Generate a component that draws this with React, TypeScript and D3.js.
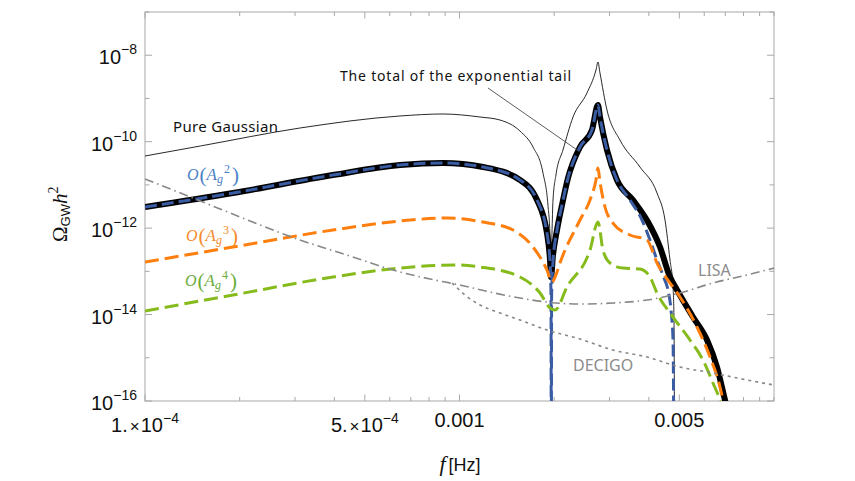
import React from "react";
import * as d3 from "d3";

const W = 855;
const H = 481;
const plot = { left: 145, right: 774, top: 12, bottom: 401 };

// pure gaussian (thin black)
const gaussF = [1e-4, 1.5e-4, 3.11e-4, 6.47e-4, 8.86e-4, 1.162e-3, 1.345e-3, 1.557e-3, 1.713e-3, 1.843e-3, 1.911e-3, 1.94e-3, 1.954e-3, 1.968e-3, 1.983e-3, 2.026e-3, 2.133e-3, 2.296e-3, 2.543e-3, 2.716e-3, 2.756e-3, 2.797e-3, 2.944e-3, 3.237e-3, 3.748e-3, 4.246e-3, 4.502e-3, 4.67e-3, 4.775e-3, 4.809e-3, 4.83e-3];
const gaussOmega = [4.66e-11, 7.94e-11, 2.07e-10, 3.93e-10, 4.37e-10, 3.72e-10, 3.17e-10, 1.76e-10, 7.52e-11, 1.88e-11, 3.42e-12, 6.92e-13, 1.19e-13, 7.7e-13, 4.47e-12, 1.69e-11, 6.41e-11, 3.72e-10, 1.34e-9, 4.55e-9, 6.97e-9, 3.88e-9, 5.4e-10, 1.09e-10, 2.59e-11, 6.49e-12, 1.54e-12, 1.83e-13, 4.34e-14, 7.48e-15, 1e-18];

// total of the exponential tail (thick black)
const totalF = [1e-4, 1.905e-4, 3.96e-4, 6.47e-4, 8.86e-4, 1.188e-3, 1.557e-3, 1.764e-3, 1.897e-3, 1.94e-3, 1.954e-3, 1.983e-3, 2.042e-3, 2.118e-3, 2.213e-3, 2.416e-3, 2.638e-3, 2.756e-3, 2.797e-3, 2.944e-3, 3.167e-3, 3.561e-3, 3.975e-3, 4.34e-3, 4.67e-3, 4.917e-3, 5.526e-3, 6.124e-3, 6.588e-3, 6.985e-3, 7.14e-3];
const totalOmega = [3.08e-12, 6.49e-12, 1.69e-11, 2.88e-11, 3.21e-11, 2.59e-11, 1.3e-11, 4.47e-12, 7.7e-13, 1.83e-13, 7.39e-14, 2.39e-13, 9.03e-13, 3.42e-12, 1.44e-11, 7.52e-11, 1.86e-10, 7.05e-10, 3.72e-10, 6.41e-11, 1.3e-11, 4.47e-12, 1.38e-12, 3.65e-13, 7.39e-14, 3.7e-14, 8.77e-15, 2.58e-15, 6.11e-16, 1.05e-16, 5.5e-17];

// O(Ag^2)
const ag2F = [1e-4, 1.905e-4, 3.96e-4, 6.47e-4, 8.86e-4, 1.188e-3, 1.557e-3, 1.764e-3, 1.897e-3, 1.94e-3, 1.954e-3, 1.958e-3, 1.963e-3, 1.983e-3, 2.042e-3, 2.118e-3, 2.213e-3, 2.416e-3, 2.638e-3, 2.756e-3, 2.797e-3, 2.944e-3, 3.167e-3, 3.483e-3, 3.804e-3, 4.033e-3, 4.246e-3, 4.469e-3, 4.603e-3, 4.705e-3, 4.775e-3, 4.809e-3];
const ag2Omega = [3.08e-12, 6.49e-12, 1.69e-11, 2.88e-11, 3.21e-11, 2.59e-11, 1.3e-11, 4.47e-12, 7.7e-13, 1.64e-13, 2.83e-14, 1e-18, 2.83e-14, 1.64e-13, 9.03e-13, 3.42e-12, 1.44e-11, 7.52e-11, 1.86e-10, 7.05e-10, 3.72e-10, 6.41e-11, 1.3e-11, 4.47e-12, 1.54e-12, 5.31e-13, 1.83e-13, 7.01e-14, 3.7e-14, 1.27e-14, 2.58e-15, 1e-18];

// O(Ag^3)
const ag3F = [1e-4, 1.905e-4, 3.96e-4, 6.47e-4, 9.13e-4, 1.188e-3, 1.48e-3, 1.713e-3, 1.897e-3, 1.968e-3, 2.026e-3, 2.087e-3, 2.416e-3, 2.6e-3, 2.716e-3, 2.756e-3, 2.797e-3, 2.901e-3, 3.076e-3, 3.483e-3, 3.946e-3, 4.246e-3, 4.67e-3, 5.025e-3, 5.69e-3, 6.259e-3, 6.734e-3, 6.985e-3];
const ag3Omega = [1.64e-13, 3.65e-13, 9.03e-13, 1.46e-12, 1.71e-12, 1.38e-12, 9.03e-13, 3.65e-13, 1.07e-13, 5.66e-14, 8.22e-14, 1.56e-13, 1.54e-12, 4.47e-12, 1.3e-11, 2.46e-11, 1.17e-11, 3.08e-12, 1.31e-12, 6.92e-13, 5.31e-13, 1.56e-13, 5.37e-14, 2.55e-14, 5.15e-15, 1.04e-15, 2.11e-16, 6.18e-17];

// O(Ag^4)
const ag4F = [1e-4, 1.905e-4, 3.96e-4, 6.47e-4, 9.82e-4, 1.162e-3, 1.557e-3, 1.803e-3, 1.94e-3, 2.012e-3, 2.197e-3, 2.6e-3, 2.756e-3, 2.859e-3, 3.009e-3, 3.309e-3, 3.748e-3, 4.033e-3, 4.246e-3, 4.775e-3, 5.406e-3, 5.944e-3, 6.397e-3, 6.734e-3, 6.883e-3];
const ag4Omega = [1.21e-14, 2.83e-14, 7.39e-14, 1.19e-13, 1.4e-13, 1.26e-13, 7.39e-14, 3.15e-14, 1.42e-14, 1.27e-14, 4.34e-14, 3.11e-13, 1.38e-12, 3.11e-13, 1.56e-13, 1.19e-13, 1.13e-13, 7.39e-14, 3.15e-14, 8.77e-15, 2.58e-15, 8.88e-16, 2.61e-16, 1.05e-16, 6.18e-17];

// sensitivity curves
const lisaF = [1e-4, 1.5e-4, 2.158e-4, 3.11e-4, 4.49e-4, 6.15e-4, 8.06e-4, 1.004e-3, 1.25e-3, 1.557e-3, 1.897e-3, 2.416e-3, 3.076e-3, 3.946e-3, 5.025e-3, 6.397e-3, 8.207e-3, 1e-2];
const lisaOmega = [1.37e-11, 4.24e-12, 1.46e-12, 5.31e-13, 2.26e-13, 1.07e-13, 6.64e-14, 4.82e-14, 3.32e-14, 2.41e-14, 1.95e-14, 1.75e-14, 1.85e-14, 2.17e-14, 3.15e-14, 5.37e-14, 8.22e-14, 1.19e-13];
const decigoF = [9.47e-4, 1.041e-3, 1.162e-3, 1.345e-3, 1.557e-3, 1.897e-3, 2.416e-3, 3.076e-3, 3.946e-3, 5.025e-3, 6.397e-3, 8.207e-3, 1e-2];
const decigoOmega = [5.37e-14, 2.83e-14, 1.66e-14, 1.09e-14, 7.48e-15, 4.39e-15, 2.72e-15, 1.51e-15, 1.04e-15, 6.11e-16, 4.44e-16, 3.06e-16, 2.34e-16];

const xMajor = [1e-4, 5e-4, 1e-3, 5e-3];
const xLabels = [
  { v: 1e-4, mant: "1.", exp: "−4" },
  { v: 5e-4, mant: "5.", exp: "−4" },
  { v: 1e-3, text: "0.001" },
  { v: 5e-3, text: "0.005" },
];
const yLabelExps = [-16, -14, -12, -10, -8];

const sans = "'Liberation Sans', Arial, sans-serif";
const serif = "'Liberation Serif', 'Times New Roman', serif";
const uiFont = "'Noto Sans', 'Open Sans', sans-serif";

const x = d3.scaleLog().domain([1e-4, 1e-2]).range([plot.left, plot.right]);
const y = d3.scaleLog().domain([1e-16, 1e-7]).range([plot.bottom, plot.top]);

const line = d3
  .line<[number, number]>()
  .x((d) => x(d[0]))
  .y((d) => y(d[1]))
  .curve(d3.curveMonotoneX);

const path = (fs: number[], os: number[]) =>
  line(fs.map((f, i) => [f, os[i]] as [number, number])) || "";

// O(A_g^n) label, one text element
const OLabel = ({ x0, b, n, color }) => (
  <text x={x0} y={b} fill={color} fontFamily={serif}>
    <tspan fontStyle="italic" fontSize={16}>O</tspan>
    <tspan fontSize={21} dx={1} dy={2}>(</tspan>
    <tspan fontStyle="italic" fontSize={17} dy={-2}>A</tspan>
    <tspan fontStyle="italic" fontSize={12} dy={3}>g</tspan>
    <tspan fontSize={12} dx={1} dy={-10}>{n}</tspan>
    <tspan fontSize={21} dx={2} dy={9}>)</tspan>
  </text>
);

export default function App() {
  const xTicks = x.ticks();
  const yTicks = d3.range(-16, -6).map((e) => Math.pow(10, e));
  const axisColor = "#a8a8a8";

  return (
    <svg
      width={W}
      height={H}
      style={{ position: "absolute", left: 0, top: 0, background: "#fff" }}
    >
      <defs>
        <clipPath id="plot-clip">
          <rect x={plot.left} y={plot.top} width={plot.right - plot.left} height={plot.bottom - plot.top} />
        </clipPath>
      </defs>

      {/* frame + ticks */}
      <rect x={plot.left} y={plot.top} width={plot.right - plot.left} height={plot.bottom - plot.top} fill="none" stroke={axisColor} strokeWidth={1} />
      {xTicks.map((t, i) => {
        const len = xMajor.some((m) => Math.abs(m - t) / m < 1e-6) ? 6.5 : 4;
        const px = x(t);
        return (
          <g key={"xt" + i} stroke={axisColor}>
            <line x1={px} x2={px} y1={plot.bottom} y2={plot.bottom - len} />
            <line x1={px} x2={px} y1={plot.top} y2={plot.top + len} />
          </g>
        );
      })}
      {yTicks.map((t, i) => {
        const e = Math.round(Math.log10(t));
        const len = yLabelExps.includes(e) ? 7 : 4.5;
        const py = y(t);
        return (
          <g key={"yt" + i} stroke={axisColor}>
            <line x1={plot.left} x2={plot.left + len} y1={py} y2={py} />
            <line x1={plot.right} x2={plot.right - len} y1={py} y2={py} />
          </g>
        );
      })}

      {/* y tick labels */}
      {yLabelExps.map((e) => (
        <text key={"yl" + e} x={137} y={y(Math.pow(10, e)) + 9} textAnchor="end" fontFamily={sans} fontSize={20} fill="#111">
          10
          <tspan fontSize={14} dy={-10}>{"−" + Math.abs(e)}</tspan>
        </text>
      ))}

      {/* x tick labels */}
      {xLabels.map((l, i) =>
        l.text ? (
          <text key={"xl" + i} x={x(l.v)} y={427} textAnchor="middle" fontFamily={sans} fontSize={20} fill="#111">
            {l.text}
          </text>
        ) : (
          <text key={"xl" + i} x={x(l.v)} y={432} textAnchor="middle" fontFamily={sans} fontSize={20} fill="#111">
            {l.mant}
            <tspan fontSize={17} dx={2}>{"×"}</tspan>
            <tspan dx={1}>10</tspan>
            <tspan fontSize={14} dy={-9}>{l.exp}</tspan>
          </text>
        )
      )}

      {/* curves */}
      <g clipPath="url(#plot-clip)" fill="none" strokeLinejoin="round">
        <path d={path(gaussF, gaussOmega)} stroke="#111" strokeWidth={0.9} />
        <path d={path(totalF, totalOmega)} stroke="#000" strokeWidth={6} />
        <path d={path(ag2F, ag2Omega)} stroke="#3a5ca3" strokeWidth={3} strokeDasharray="12 5" />
        <path d={path(ag3F, ag3Omega)} stroke="#ff7f0e" strokeWidth={3} strokeDasharray="14 6" />
        <path d={path(ag4F, ag4Omega)} stroke="#86bb1c" strokeWidth={3} strokeDasharray="14 6" />
        <path d={path(lisaF, lisaOmega)} stroke="#888" strokeWidth={1.6} strokeDasharray="9 4 1.5 4" />
        <path d={path(decigoF, decigoOmega)} stroke="#888" strokeWidth={1.6} strokeDasharray="3 4" />
      </g>

      {/* annotations */}
      <text x={173} y={132} fontFamily={uiFont} fontSize={15} fill="#111" textLength={105} lengthAdjust="spacing">
        Pure Gaussian
      </text>
      <text x={340} y={81} fontFamily={uiFont} fontSize={14} fill="#111" textLength={231} lengthAdjust="spacing">
        The total of the exponential tail
      </text>
      <line x1={488} y1={88} x2={580} y2={152} stroke="#333" strokeWidth={0.8} />
      <OLabel x0={187} b={180} n="2" color="#4a82c6" />
      <OLabel x0={186} b={241} n="3" color="#f58a2a" />
      <OLabel x0={185} b={286} n="4" color="#6aac3a" />
      <text x={698} y={276} fontFamily={uiFont} fontSize={16} fill="#8c8c8c">LISA</text>
      <text x={573} y={371} fontFamily={uiFont} fontSize={16} fill="#8c8c8c">DECIGO</text>

      {/* axis titles */}
      <text x={460} y={471} textAnchor="middle" fill="#111">
        <tspan fontFamily={serif} fontStyle="italic" fontSize={22}>f</tspan>
        <tspan fontFamily={sans} fontSize={18} dx={3}>[Hz]</tspan>
      </text>
      <text transform="translate(67,242) rotate(-90)" fill="#111">
        <tspan fontFamily={serif} fontSize={21}>Ω</tspan>
        <tspan fontFamily={sans} fontSize={13} dy={3}>GW</tspan>
        <tspan fontFamily={serif} fontStyle="italic" fontSize={21} dy={-3}>h</tspan>
        <tspan fontFamily={serif} fontSize={14} dy={-9}>2</tspan>
      </text>
    </svg>
  );
}
